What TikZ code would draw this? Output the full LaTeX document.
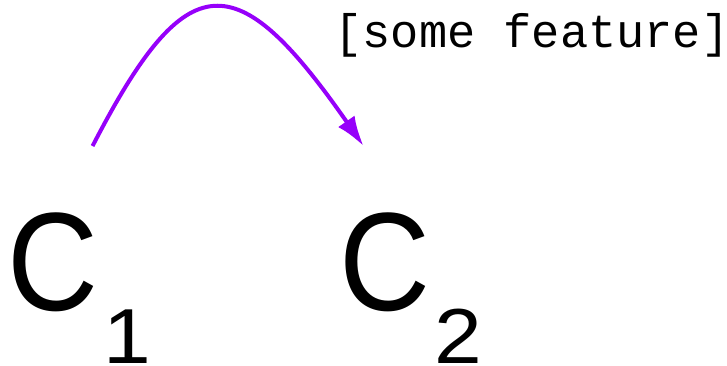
\documentclass[tikz,border=0pt]{standalone}
\usepackage{fontspec}
\setmainfont{Liberation Sans}
\newfontfamily\narrowsans[FakeStretch=0.9]{Liberation Sans}
\newfontfamily\widesans[FakeStretch=1.1]{Liberation Sans}
\newfontfamily\monofam{Liberation Mono}
\usetikzlibrary{arrows.meta}
\definecolor{arcpurple}{RGB}{150,0,250}
\newcommand{\subdigit}[1]{\raisebox{-53pt}{\widesans\fontsize{78}{78}\selectfont #1}}
\tikzset{
  cnode/.style={inner sep=0pt, anchor=base west, font=\narrowsans\fontsize{140}{140}\selectfont},
  featlabel/.style={inner sep=0pt, anchor=base, font=\monofam\fontsize{47}{47}\selectfont},
  arc/.style={draw=arcpurple, line width=4pt, -{Latex[length=30pt,width=20pt]}}
}
\begin{document}
\begin{tikzpicture}[x=1pt,y=-1pt]
\useasboundingbox (0,0) rectangle (727,366);
\node[cnode] (c1) at (7,310) {C\kern5pt\subdigit{1}};
\node[cnode] (c2) at (339,310) {C\kern4pt\subdigit{2}};
\node[featlabel] (lab) at (532,48) {[some feature]};
\draw[arc] ([xshift=13.5pt,yshift=66pt]c1.north) .. controls (187,-37) and (236,-37) .. ([xshift=-47pt,yshift=66pt]c2.north);
\end{tikzpicture}
\end{document}
